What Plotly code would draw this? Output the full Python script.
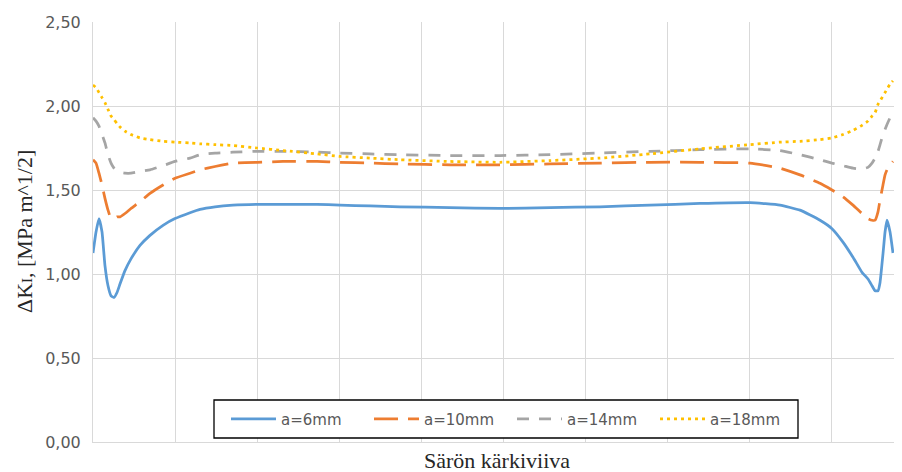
import plotly.graph_objects as go

# Position along the crack front (in grid-interval units)
position = [0, 0.037, 0.073, 0.110, 0.146, 0.183, 0.220, 0.256, 0.293, 0.329,
            0.390, 0.463, 0.573, 0.695, 0.854, 1.0, 1.183, 1.305, 1.488, 1.707,
            2.0, 2.317, 2.732, 3.012, 3.378, 3.744, 4.354, 4.963, 5.573, 6.183,
            6.793, 7.402, 8.012, 8.378, 8.622, 8.866, 9.012, 9.146, 9.268, 9.378,
            9.451, 9.500, 9.537, 9.573, 9.598, 9.634, 9.659, 9.683, 9.720, 9.756]

a6 = [1.125, 1.25, 1.33, 1.25, 1.05, 0.93, 0.87, 0.86, 0.89, 0.94,
      1.02, 1.09, 1.17, 1.23, 1.29, 1.33, 1.365, 1.385, 1.40, 1.41,
      1.415, 1.415, 1.415, 1.41, 1.405, 1.40, 1.395, 1.39, 1.395, 1.40,
      1.41, 1.42, 1.425, 1.41, 1.38, 1.32, 1.27, 1.19, 1.10, 1.01,
      0.97, 0.93, 0.90, 0.90, 0.95, 1.12, 1.25, 1.32, 1.25, 1.125]

a10 = [1.68, 1.66, 1.60, 1.53, 1.45, 1.38, 1.33, 1.33, 1.34, 1.34,
       1.36, 1.39, 1.43, 1.48, 1.53, 1.57, 1.60, 1.62, 1.64, 1.66,
       1.665, 1.67, 1.67, 1.665, 1.66, 1.655, 1.65, 1.65, 1.655, 1.66,
       1.665, 1.665, 1.66, 1.63, 1.59, 1.54, 1.50, 1.46, 1.41, 1.36,
       1.33, 1.32, 1.32, 1.37, 1.44, 1.53, 1.59, 1.62, 1.65, 1.67]

a14 = [1.93, 1.91, 1.88, 1.83, 1.78, 1.71, 1.66, 1.63, 1.61, 1.605,
       1.60, 1.60, 1.61, 1.62, 1.645, 1.67, 1.69, 1.71, 1.72, 1.725,
       1.73, 1.73, 1.725, 1.72, 1.715, 1.71, 1.705, 1.705, 1.71, 1.72,
       1.73, 1.74, 1.745, 1.735, 1.71, 1.68, 1.66, 1.645, 1.63, 1.625,
       1.635, 1.66, 1.69, 1.73, 1.77, 1.83, 1.86, 1.89, 1.93, 1.96]

a18 = [2.125, 2.11, 2.08, 2.05, 2.02, 1.98, 1.94, 1.92, 1.895, 1.875,
       1.85, 1.83, 1.81, 1.80, 1.79, 1.785, 1.78, 1.775, 1.77, 1.765,
       1.75, 1.735, 1.715, 1.70, 1.69, 1.68, 1.67, 1.665, 1.675, 1.69,
       1.715, 1.745, 1.77, 1.785, 1.79, 1.80, 1.81, 1.83, 1.855, 1.885,
       1.91, 1.94, 1.96, 2.01, 2.03, 2.06, 2.08, 2.10, 2.13, 2.15]

series_names = ["a=6mm", "a=10mm", "a=14mm", "a=18mm"]
y_ticks = [0, 0.5, 1.0, 1.5, 2.0, 2.5]
x_title = "Särön kärkiviiva"
y_title = "ΔK<span style='font-size:15px'>I</span>, [MPa m^1/2]"

styles = [
    dict(color="#5B9BD5", width=2.75, dash="solid"),
    dict(color="#ED7D31", width=2.75, dash="24px,10px"),
    dict(color="#A5A5A5", width=2.75, dash="12px,10px"),
    dict(color="#FFC000", width=2.75, dash="3px,4px"),
]

fig = go.Figure()
for name, vals, st in zip(series_names, [a6, a10, a14, a18], styles):
    fig.add_trace(go.Scatter(x=position, y=vals, mode="lines", name=name,
                             line=dict(color=st["color"], width=st["width"], dash=st["dash"],
                                       shape="spline", smoothing=0.4)))

# page body has an 8px margin; figure sized to fill the rest of the window
OFF = 8
W, H = 902 - OFF, 472 - OFF
L, R, T, B = 93 - OFF, 0, 22 - OFF, 472 - 442
pw, ph = W - L - R, H - T - B

def px_x(p):  # window pixel -> paper
    return (p - OFF - L) / pw

def px_y(p):
    return (H - B - (p - OFF)) / ph

# legend box
fig.add_shape(type="rect", xref="paper", yref="paper",
              x0=px_x(214), x1=px_x(798), y0=px_y(438), y1=px_y(400),
              line=dict(color="#000000", width=1.3), fillcolor="white", layer="above")

title_font = dict(family="Liberation Serif", size=22, color="#262626")
fig.add_annotation(text=x_title, xref="paper", yref="paper", x=px_x(497), y=px_y(460),
                   xanchor="center", yanchor="middle", showarrow=False, font=title_font)
fig.add_annotation(text=y_title, xref="paper", yref="paper", x=px_x(24), y=px_y(232),
                   xanchor="center", yanchor="middle", showarrow=False, textangle=-90,
                   font=title_font)

fig.update_layout(
    width=W, height=H,
    margin=dict(l=L, r=R, t=T, b=B, pad=0, autoexpand=False),
    paper_bgcolor="white", plot_bgcolor="white",
    separators=", ",
    showlegend=True,
    legend=dict(orientation="h", x=px_x(512), xanchor="center",
                y=px_y(419), yanchor="middle",
                bgcolor="rgba(0,0,0,0)", borderwidth=0,
                font=dict(family="DejaVu Sans", size=15, color="#595959"),
                itemwidth=45, entrywidth=83, traceorder="normal"),
    xaxis=dict(range=[0, pw / 82], dtick=1, tick0=0, showticklabels=False,
               automargin=False,
               showgrid=True, gridcolor="#D9D9D9", gridwidth=1,
               zeroline=False, showline=True, linecolor="#D9D9D9", linewidth=1),
    yaxis=dict(range=[0, 2.5], tickvals=y_ticks, tickformat=".2f",
               automargin=False,
               showgrid=True, gridcolor="#D9D9D9", gridwidth=1,
               zeroline=False, showline=True, linecolor="#D9D9D9", linewidth=1,
               ticklabelstandoff=8,
               tickfont=dict(family="DejaVu Sans", size=16, color="#595959")),
)

fig.write_html("out.html")
